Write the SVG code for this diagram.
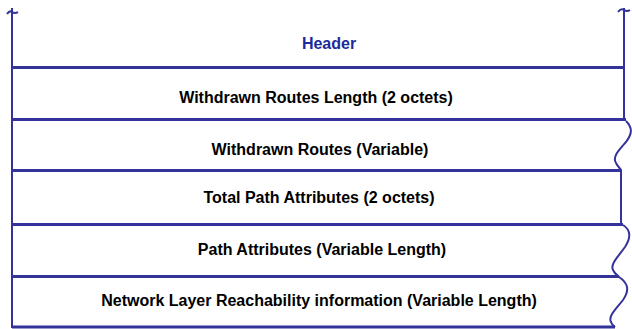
<svg xmlns="http://www.w3.org/2000/svg" width="632" height="329" viewBox="0 0 632 329">
<style>
.ln{stroke:#333399;fill:none;stroke-width:2}
.hl{stroke:#333399;fill:none;stroke-width:3}
.t{font-family:"Liberation Sans",Arial,sans-serif;font-weight:bold;font-size:16px;fill:#000;text-anchor:middle}
.h{fill:#1a2b9c}
</style>
<rect width="632" height="329" fill="#fff"/>
<g id="connectors">
<path class="ln" d="M12,8 V328"/>
<path class="ln" d="M7,14 Q10,10 12,12 Q15,14 18,12"/>
<path class="ln" d="M624,8 V121"/>
<path class="ln" d="M618,12 Q621,8 624,10 Q627,12 630,10"/>
<path class="ln" d="M626,121 C633,128 632,134 626,142 C619,150 612,157 616,163 C618,167 620,168 621,170 V224"/>
<path class="ln" d="M623,225 C631,230 631,238 625,247 C618,257 610,264 613,270 C615,274 617,275 619,277 C628,283 630,290 623,300 C616,309 608,316 611,322 C612,325 614,326 615,327"/>
</g>
<g id="header"><text class="t h" x="329" y="49">Header</text></g>
<g id="row1"><path class="hl" d="M12,67.5 H625"/><text class="t" x="316" y="103">Withdrawn Routes Length (2 octets)</text></g>
<g id="row2"><path class="hl" d="M12,119.5 H626"/><text class="t" x="320" y="155">Withdrawn Routes (Variable)</text></g>
<g id="row3"><path class="hl" d="M12,170.5 H621"/><text class="t" x="319" y="203">Total Path Attributes (2 octets)</text></g>
<g id="row4"><path class="hl" d="M12,224.5 H623"/><text class="t" x="322" y="255">Path Attributes (Variable Length)</text></g>
<g id="row5"><path class="hl" d="M12,276.5 H619"/><text class="t" x="319" y="306">Network Layer Reachability information (Variable Length)</text></g>
<path class="hl" d="M12,327 H615"/>
</svg>
